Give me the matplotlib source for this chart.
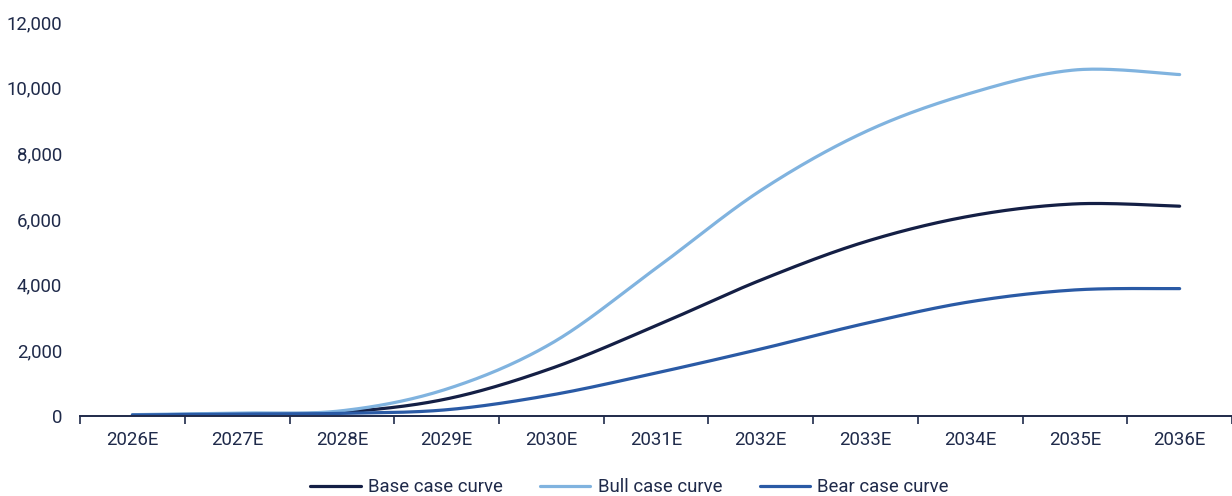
import numpy as np
import matplotlib
matplotlib.use("Agg")
import matplotlib.pyplot as plt
from matplotlib.ticker import FuncFormatter, FixedLocator

plt.rcParams['font.family'] = ['Roboto', 'DejaVu Sans']

years = ["2026E", "2027E", "2028E", "2029E", "2030E", "2031E",
         "2032E", "2033E", "2034E", "2035E", "2036E"]
base_case = [30, 70, 120, 520, 1450, 2750, 4140, 5310, 6090, 6460, 6390]
bull_case = [40, 90, 160, 820, 2210, 4500, 6870, 8660, 9830, 10540, 10400]
bear_case = [30, 60, 80, 190, 640, 1310, 2040, 2820, 3480, 3840, 3880]

series_names = ["Base case curve", "Bull case curve", "Bear case curve"]
series_colors = ["#141f45", "#80b3df", "#2a5aa5"]
text_color = "#1f2a4a"
font_size = 13.4


def smooth(xs, ys, n=40):
    """Catmull-Rom style Bezier smoothing through the given points."""
    xs = np.asarray(xs, float)
    ys = np.asarray(ys, float)
    px = np.concatenate([[xs[0]], xs, [xs[-1]]])
    py = np.concatenate([[ys[0]], ys, [ys[-1]]])
    out_x, out_y = [], []
    t = np.linspace(0, 1, n)
    for i in range(1, len(px) - 2):
        p0 = np.array([px[i], py[i]])
        p3 = np.array([px[i + 1], py[i + 1]])
        c1 = p0 + (np.array([px[i + 1], py[i + 1]]) - np.array([px[i - 1], py[i - 1]])) / 6
        c2 = p3 - (np.array([px[i + 2], py[i + 2]]) - np.array([px[i], py[i]])) / 6
        b = ((1 - t) ** 3)[:, None] * p0 + (3 * (1 - t) ** 2 * t)[:, None] * c1 \
            + (3 * (1 - t) * t ** 2)[:, None] * c2 + (t ** 3)[:, None] * p3
        out_x.extend(b[:, 0])
        out_y.extend(b[:, 1])
    return np.array(out_x), np.array(out_y)


fig = plt.figure(figsize=(12.32, 4.96), dpi=100)
ax = fig.add_axes([0.065, 0.1613, 0.935, 0.7943])

x = np.arange(len(years))
for vals, name, col in zip([base_case, bull_case, bear_case], series_names, series_colors):
    sx, sy = smooth(x, vals)
    ax.plot(sx, sy, color=col, lw=2.3, label=name, solid_capstyle='round')

ax.set_xlim(-0.5, len(years) - 0.5)
ax.set_ylim(0, 12000)
ax.yaxis.set_major_locator(FixedLocator(np.arange(0, 12001, 2000)))
ax.yaxis.set_major_formatter(FuncFormatter(lambda v, p: f"{int(v):,}"))

ax.xaxis.set_major_locator(FixedLocator(np.arange(-0.5, len(years), 1.0)))
ax.xaxis.set_major_formatter(FuncFormatter(lambda v, p: ""))
ax.xaxis.set_minor_locator(FixedLocator(x))
ax.set_xticklabels(years, minor=True)
ax.tick_params(axis='x', which='major', length=6, width=1.2, color=text_color, direction='out')
ax.tick_params(axis='x', which='minor', length=0, pad=11, labelsize=font_size, labelcolor=text_color)
ax.tick_params(axis='y', length=0, pad=13, labelsize=font_size, labelcolor=text_color)

for s in ["top", "right", "left"]:
    ax.spines[s].set_visible(False)
ax.spines["bottom"].set_color(text_color)
ax.spines["bottom"].set_linewidth(1.4)

leg = fig.legend(loc="center", bbox_to_anchor=(0.511, 0.018), ncol=3, frameon=False,
                 fontsize=font_size, handlelength=2.7, handletextpad=0.4, columnspacing=2.0)
for t in leg.get_texts():
    t.set_color(text_color)

fig.savefig("out.png", dpi=100)
